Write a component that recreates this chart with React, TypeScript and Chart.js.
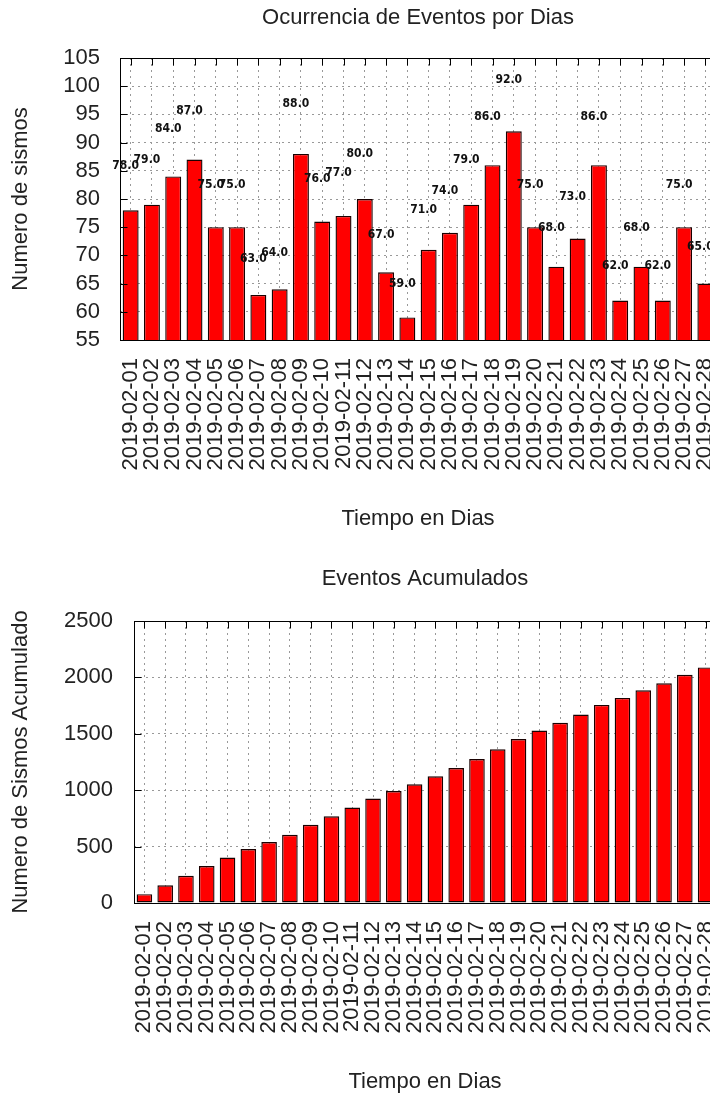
import React, { useEffect, useRef } from "react";
import { Chart, registerables } from "chart.js";

Chart.register(...registerables);

// ---- data ----
const dias = [
  "2019-02-01", "2019-02-02", "2019-02-03", "2019-02-04", "2019-02-05", "2019-02-06", "2019-02-07",
  "2019-02-08", "2019-02-09", "2019-02-10", "2019-02-11", "2019-02-12", "2019-02-13", "2019-02-14",
  "2019-02-15", "2019-02-16", "2019-02-17", "2019-02-18", "2019-02-19", "2019-02-20", "2019-02-21",
  "2019-02-22", "2019-02-23", "2019-02-24", "2019-02-25", "2019-02-26", "2019-02-27", "2019-02-28",
];
const eventosPorDia = [78, 79, 84, 87, 75, 75, 63, 64, 88, 76, 77, 80, 67, 59, 71, 74, 79, 86, 92, 75, 68, 73, 86, 62, 68, 62, 75, 65];
const eventosAcumulados = [78, 157, 241, 328, 403, 478, 541, 605, 693, 769, 846, 926, 993, 1052, 1123, 1197, 1276, 1362, 1454, 1529, 1597, 1670, 1756, 1818, 1886, 1948, 2023, 2088];
const tituloDiario = "Ocurrencia de Eventos por Dias";
const tituloAcumulado = "Eventos Acumulados";
const ejeXTitulo = "Tiempo en Dias";
const ejeYDiario = "Numero de sismos";
const ejeYAcumulado = "Numero de Sismos Acumulado";

const FONT = "'Liberation Sans', Arial, sans-serif";
const TEXT = "#222";

const framePlugin = {
  id: "frame",
  afterDatasetsDraw(chart: any) {
    const { ctx, chartArea: a, scales } = chart;
    ctx.save();
    ctx.strokeStyle = "#000";
    ctx.lineWidth = 1;
    ctx.setLineDash([]);
    const l = Math.round(a.left) + 0.5;
    const t = Math.round(a.top) + 0.5;
    const r = Math.round(a.right) + 0.5;
    const b = Math.round(a.bottom) + 0.5;
    ctx.strokeRect(l, t, r - l, b - t);
    ctx.beginPath();
    scales.x.ticks.forEach((_: any, i: number) => {
      const x = Math.round(scales.x.getPixelForTick(i)) + 0.5;
      ctx.moveTo(x, t);
      ctx.lineTo(x, t + 7);
    });
    scales.y.ticks.forEach((_: any, i: number) => {
      const y = Math.round(scales.y.getPixelForTick(i)) + 0.5;
      ctx.moveTo(l, y);
      ctx.lineTo(l + 7, y);
    });
    ctx.stroke();
    ctx.restore();
  },
};

const valuesPlugin = {
  id: "valores",
  afterDatasetsDraw(chart: any, _args: any, opts: any) {
    if (!opts || !opts.show) return;
    const { ctx, scales } = chart;
    const meta = chart.getDatasetMeta(0);
    const vals = chart.data.datasets[0].data as number[];
    ctx.save();
    ctx.font = "bold 12px 'Liberation Sans Narrow', 'DejaVu Sans Condensed', sans-serif";
    ctx.fillStyle = "#111";
    ctx.textAlign = "center";
    ctx.textBaseline = "middle";
    meta.data.forEach((bar: any, i: number) => {
      const v = vals[i];
      ctx.fillText(v.toFixed(1), bar.x - 5, scales.y.getPixelForValue(v * 1.1));
    });
    ctx.restore();
  },
};

type Props = {
  values: number[];
  title: string;
  yTitle: string;
  yMin: number;
  yMax: number;
  step: number;
  yWidth: number;
  tickPad: number;
  titleTop: number;
  titleBottom: number;
  height: number;
  padBottom: number;
  showValues: boolean;
};

function BarChart(p: Props) {
  const ref = useRef<HTMLCanvasElement>(null);
  useEffect(() => {
    if (!ref.current) return;
    const chart = new Chart(ref.current, {
      type: "bar",
      data: {
        labels: dias,
        datasets: [
          {
            data: p.values,
            backgroundColor: "#ff0000",
            borderColor: "#1a0000",
            borderWidth: 1.4,
            borderSkipped: false,
            categoryPercentage: 1,
            barPercentage: 0.75,
          },
        ],
      },
      options: {
        responsive: false,
        animation: false,
        devicePixelRatio: 1,
        layout: { padding: { left: 0, right: 24, top: 0, bottom: p.padBottom } },
        plugins: {
          legend: { display: false },
          tooltip: { enabled: false },
          title: {
            display: true,
            text: p.title,
            fullSize: false,
            color: TEXT,
            font: { family: FONT, size: 22, weight: "normal" },
            padding: { top: p.titleTop, bottom: p.titleBottom },
          },
          valores: { show: p.showValues },
        } as any,
        scales: {
          x: {
            offset: true,
            grid: { offset: false, color: "#999", lineWidth: 1, drawTicks: false },
            border: { display: false, dash: [2, 4] },
            ticks: {
              autoSkip: false,
              minRotation: 90,
              maxRotation: 90,
              padding: 18,
              color: TEXT,
              font: { family: FONT, size: 22 },
            },
            title: {
              display: true,
              text: ejeXTitulo,
              color: TEXT,
              font: { family: FONT, size: 22 },
              padding: { top: 0, bottom: 8 },
            },
            afterFit: (s: any) => {
              s.height = 200;
              s.paddingLeft = 0;
              s.paddingRight = 0;
            },
          },
          y: {
            min: p.yMin,
            max: p.yMax,
            grid: { color: "#999", lineWidth: 1, drawTicks: false },
            border: { display: false, dash: [2, 4] },
            ticks: {
              stepSize: p.step,
              autoSkip: false,
              padding: p.tickPad,
              color: TEXT,
              font: { family: FONT, size: 22 },
              callback: (v: any) => String(v),
            },
            title: {
              display: true,
              text: p.yTitle,
              color: TEXT,
              font: { family: FONT, size: 22 },
              padding: { top: 8, bottom: 0 },
            },
            afterFit: (s: any) => {
              s.width = p.yWidth;
            },
          },
        },
      } as any,
      plugins: [framePlugin, valuesPlugin],
    });
    return () => chart.destroy();
  }, []);
  return <canvas ref={ref} width={740} height={p.height} style={{ display: "block" }} />;
}

export default function App() {
  return (
    <div
      style={{
        position: "fixed",
        left: 0,
        top: 0,
        width: 710,
        height: 1097,
        overflow: "hidden",
        background: "#fff",
      }}
    >
      <BarChart
        values={eventosPorDia}
        title={tituloDiario}
        yTitle={ejeYDiario}
        yMin={55}
        yMax={105}
        step={5}
        yWidth={120}
        tickPad={20}
        titleTop={5}
        titleBottom={26.6}
        height={555}
        padBottom={15}
        showValues={true}
      />
      <BarChart
        values={eventosAcumulados}
        title={tituloAcumulado}
        yTitle={ejeYAcumulado}
        yMin={0}
        yMax={2500}
        step={500}
        yWidth={134}
        tickPad={21}
        titleTop={10.8}
        titleBottom={28.8}
        height={560}
        padBottom={12}
        showValues={false}
      />
    </div>
  );
}
